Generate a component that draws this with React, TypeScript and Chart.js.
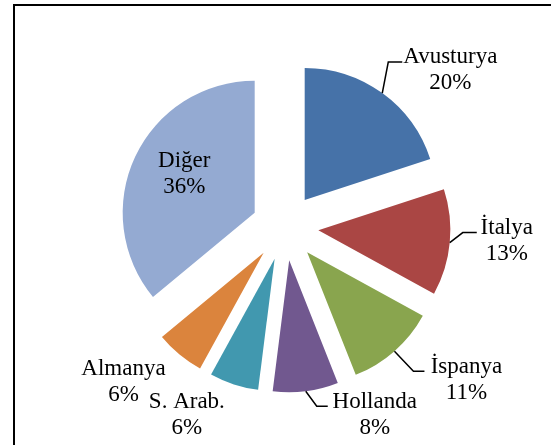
import React, { useEffect, useRef } from "react";
import { Chart, registerables } from "chart.js";

Chart.register(...registerables);

// ---- data ----
const categories = ["Avusturya", "İtalya", "İspanya", "Hollanda", "S. Arab.", "Almanya", "Diğer"];
const shares = [20, 13, 11, 8, 6, 6, 36];

// ---- styles ----
const sliceColors = ["#4672A8", "#AA4644", "#89A54E", "#71588F", "#4198AF", "#DB843D", "#94AAD2"];
const EXPLODE = 33.5;
const RADIUS = 132;
const FONT = '23px "Liberation Serif"';
const LINE_GAP = 26;

// label placement relative to the outer mid-arc point of each slice
type Lay = { dx: number; dy: number; leader?: number[][] };
const labelLayout: Lay[] = [
  { dx: 68, dy: -30, leader: [[6, -31], [20, -31]] },
  { dx: 57, dy: -9, leader: [[13, -10], [27, -10]] },
  { dx: 72, dy: 22, leader: [[19, 20], [30, 20]] },
  { dx: 69, dy: 17, leader: [[11, 15], [22, 15]] },
  { dx: -47, dy: 24 },
  { dx: -56, dy: 20 },
  { dx: 49, dy: 10 },
];

const piePlugin = {
  id: "explodedPieLabels",
  beforeDraw(chart: any) {
    const ctx = chart.ctx;
    ctx.save();
    ctx.strokeStyle = "#000";
    ctx.lineWidth = 2;
    ctx.strokeRect(14, 5, 800, 800);
    ctx.restore();
  },
  afterDatasetUpdate(chart: any) {
    const meta = chart.getDatasetMeta(0);
    const ca = chart.chartArea;
    const cx = (ca.left + ca.right) / 2;
    const cy = (ca.top + ca.bottom) / 2;
    meta.data.forEach((arc: any) => {
      const mid = (arc.startAngle + arc.endAngle) / 2;
      arc.x = cx + Math.cos(mid) * EXPLODE;
      arc.y = cy + Math.sin(mid) * EXPLODE;
    });
  },
  afterDatasetsDraw(chart: any) {
    const ctx = chart.ctx;
    const meta = chart.getDatasetMeta(0);
    ctx.save();
    ctx.font = FONT;
    ctx.fillStyle = "#000";
    ctx.strokeStyle = "#000";
    ctx.lineWidth = 1.5;
    ctx.textAlign = "center";
    ctx.textBaseline = "alphabetic";
    meta.data.forEach((arc: any, i: number) => {
      const mid = (arc.startAngle + arc.endAngle) / 2;
      const ax = arc.x + Math.cos(mid) * arc.outerRadius;
      const ay = arc.y + Math.sin(mid) * arc.outerRadius;
      const lay = labelLayout[i];
      if (lay.leader) {
        ctx.beginPath();
        ctx.moveTo(ax, ay);
        lay.leader.forEach(([lx, ly]) => ctx.lineTo(ax + lx, ay + ly));
        ctx.stroke();
      }
      ctx.fillText(categories[i], ax + lay.dx, ay + lay.dy);
      ctx.fillText(`${shares[i]}%`, ax + lay.dx, ay + lay.dy + LINE_GAP);
    });
    ctx.restore();
  },
};

export default function App() {
  const ref = useRef<HTMLCanvasElement>(null);
  useEffect(() => {
    if (!ref.current) return;
    const chart = new Chart(ref.current, {
      type: "pie",
      data: {
        labels: categories,
        datasets: [
          {
            data: shares,
            backgroundColor: sliceColors,
            borderWidth: 0,
          },
        ],
      },
      options: {
        responsive: false,
        animation: false,
        devicePixelRatio: 1,
        radius: RADIUS,
        layout: { padding: { left: 19, right: 0, top: 9, bottom: 0 } },
        plugins: { legend: { display: false }, tooltip: { enabled: false } },
        events: [],
      } as any,
      plugins: [piePlugin],
    });
    return () => chart.destroy();
  }, []);
  return (
    <div style={{ position: "fixed", left: 0, top: 0, width: 551, height: 445, background: "#fff" }}>
      <canvas ref={ref} width={551} height={445} style={{ display: "block" }} />
    </div>
  );
}
